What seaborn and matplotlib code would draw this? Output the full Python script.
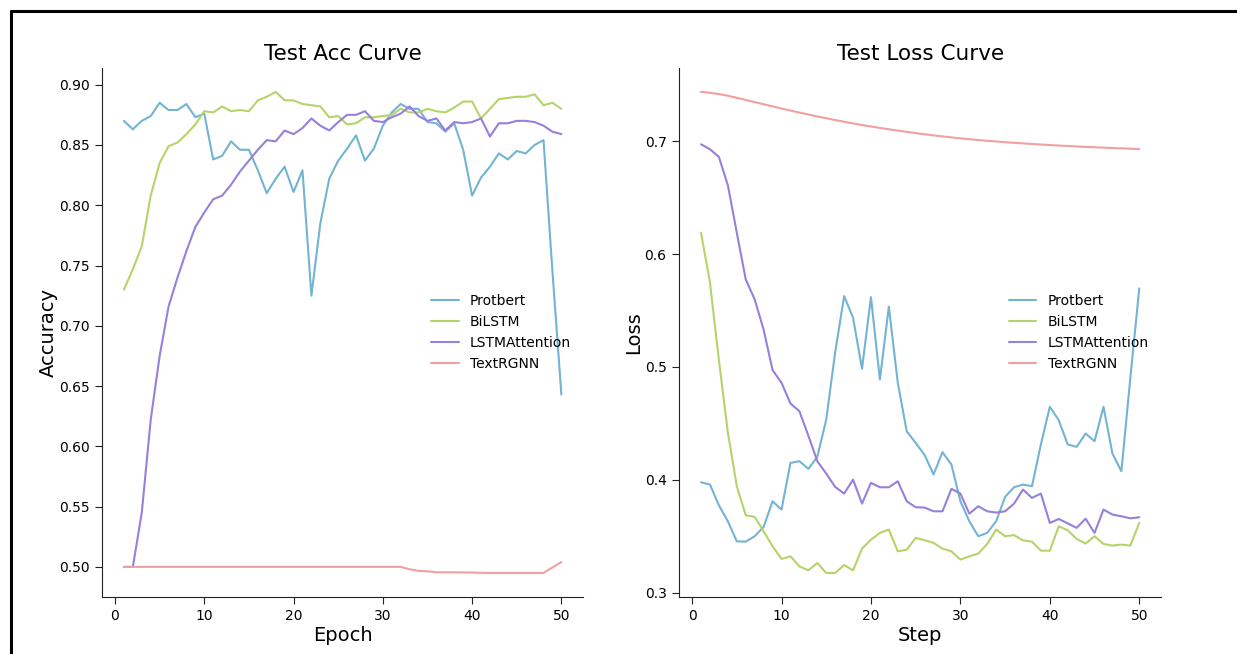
import numpy as np
import pandas as pd
import matplotlib
matplotlib.use("Agg")
import matplotlib.pyplot as plt
import seaborn as sns
from matplotlib.lines import Line2D

epochs = list(range(1, 51))
model_names = ["Protbert", "BiLSTM", "LSTMAttention", "TextRGNN"]
line_colors = ["#73b4d2", "#b4d46a", "#9680dc", "#f0a0a0"]

# test accuracy per epoch
acc_protbert = [0.870, 0.863, 0.870, 0.874, 0.885, 0.879, 0.879, 0.884, 0.873, 0.876,
                0.838, 0.841, 0.853, 0.846, 0.846, 0.829, 0.810, 0.822, 0.832, 0.811,
                0.829, 0.725, 0.785, 0.822, 0.837, 0.847, 0.858, 0.837, 0.847, 0.866,
                0.877, 0.884, 0.880, 0.880, 0.869, 0.868, 0.861, 0.868, 0.846, 0.808,
                0.823, 0.832, 0.843, 0.838, 0.845, 0.843, 0.850, 0.854, 0.745, 0.643]
acc_bilstm = [0.730, 0.747, 0.766, 0.808, 0.835, 0.849, 0.852, 0.859, 0.867, 0.878,
              0.877, 0.882, 0.878, 0.879, 0.878, 0.887, 0.890, 0.894, 0.887, 0.887,
              0.884, 0.883, 0.882, 0.873, 0.874, 0.867, 0.868, 0.873, 0.873, 0.874,
              0.875, 0.880, 0.877, 0.877, 0.880, 0.878, 0.877, 0.881, 0.886, 0.886,
              0.872, 0.880, 0.888, 0.889, 0.890, 0.890, 0.892, 0.883, 0.885, 0.880]
acc_lstmatt = [0.500, 0.500, 0.545, 0.622, 0.675, 0.716, 0.740, 0.762, 0.782, 0.794,
               0.805, 0.808, 0.817, 0.828, 0.837, 0.846, 0.854, 0.853, 0.862, 0.859,
               0.864, 0.872, 0.866, 0.862, 0.869, 0.875, 0.875, 0.878, 0.870, 0.869,
               0.873, 0.876, 0.882, 0.874, 0.870, 0.872, 0.862, 0.869, 0.868, 0.869,
               0.872, 0.857, 0.868, 0.868, 0.870, 0.870, 0.869, 0.866, 0.861, 0.859]
acc_textrgnn = [0.500] * 32 + [0.4980, 0.4967, 0.4963, 0.4956, 0.4955, 0.4955, 0.4954, 0.4953,
                               0.4951, 0.4950, 0.4950, 0.4950, 0.4950, 0.4950, 0.4950, 0.4950,
                               0.4995, 0.5040]

# test loss per step
loss_protbert = [0.3978, 0.3958, 0.3774, 0.3633, 0.3455, 0.3452, 0.3500, 0.3583, 0.3810, 0.3736,
                 0.4150, 0.4165, 0.4097, 0.4203, 0.4534, 0.5130, 0.5628, 0.5436, 0.4984, 0.5619,
                 0.4889, 0.5534, 0.4860, 0.4430, 0.4328, 0.4220, 0.4047, 0.4245, 0.4135, 0.3810,
                 0.3633, 0.3500, 0.3530, 0.3633, 0.3849, 0.3934, 0.3958, 0.3943, 0.4313, 0.4647,
                 0.4528, 0.4313, 0.4292, 0.4410, 0.4342, 0.4647, 0.4233, 0.4076, 0.4900, 0.5696]
loss_bilstm = [0.6190, 0.5747, 0.5060, 0.4420, 0.3943, 0.3686, 0.3671, 0.3544, 0.3411, 0.3299,
               0.3322, 0.3233, 0.3198, 0.3263, 0.3175, 0.3175, 0.3245, 0.3198, 0.3390, 0.3470,
               0.3530, 0.3559, 0.3366, 0.3381, 0.3485, 0.3465, 0.3441, 0.3390, 0.3366, 0.3293,
               0.3322, 0.3346, 0.3432, 0.3559, 0.3500, 0.3510, 0.3464, 0.3452, 0.3372, 0.3372,
               0.3588, 0.3553, 0.3476, 0.3435, 0.3500, 0.3432, 0.3417, 0.3426, 0.3417, 0.3618]
loss_lstmatt = [0.6973, 0.6929, 0.6861, 0.6610, 0.6190, 0.5776, 0.5599, 0.5330, 0.4972, 0.4860,
                0.4676, 0.4608, 0.4392, 0.4165, 0.4055, 0.3937, 0.3878, 0.4002, 0.3789, 0.3973,
                0.3934, 0.3934, 0.3987, 0.3810, 0.3757, 0.3754, 0.3721, 0.3721, 0.3920, 0.3878,
                0.3700, 0.3766, 0.3721, 0.3710, 0.3721, 0.3789, 0.3914, 0.3840, 0.3878, 0.3618,
                0.3653, 0.3614, 0.3574, 0.3656, 0.3530, 0.3736, 0.3692, 0.3677, 0.3659, 0.3668]
loss_textrgnn = [0.7437, 0.7430, 0.7418, 0.7403, 0.7385, 0.7366, 0.7347, 0.7328, 0.7309, 0.7290,
                 0.7272, 0.7254, 0.7237, 0.7220, 0.7204, 0.7188, 0.7173, 0.7158, 0.7144, 0.7131,
                 0.7118, 0.7106, 0.7094, 0.7083, 0.7072, 0.7062, 0.7052, 0.7043, 0.7034, 0.7026,
                 0.7018, 0.7011, 0.7004, 0.6998, 0.6992, 0.6986, 0.6981, 0.6976, 0.6971, 0.6966,
                 0.6962, 0.6958, 0.6954, 0.6950, 0.6947, 0.6943, 0.6940, 0.6937, 0.6934, 0.6931]

acc_data = [acc_protbert, acc_bilstm, acc_lstmatt, acc_textrgnn]
loss_data = [loss_protbert, loss_bilstm, loss_lstmatt, loss_textrgnn]

sns.set_style("ticks")
plt.rcParams['font.family'] = ['DejaVu Sans']
plt.rcParams['text.color'] = 'black'
plt.rcParams['axes.labelcolor'] = 'black'
plt.rcParams['xtick.color'] = '#222222'
plt.rcParams['ytick.color'] = '#222222'
plt.rcParams['axes.edgecolor'] = '#222222'

fig = plt.figure(figsize=(12.37, 6.54), dpi=100)
ax1 = fig.add_axes([0.0825, 0.0872, 0.389, 0.809])
ax2 = fig.add_axes([0.549, 0.0872, 0.3897, 0.809])

for name, vals, c in zip(model_names, acc_data, line_colors):
    sns.lineplot(x=epochs, y=vals, label=name, color=c, linewidth=1.5, ax=ax1)
for name, vals, c in zip(model_names, loss_data, line_colors):
    sns.lineplot(x=epochs, y=vals, label=name, color=c, linewidth=1.5, ax=ax2)

ax1.set_title("Test Acc Curve", fontsize=15.5)
ax1.set_xlabel("Epoch", fontsize=14, labelpad=2)
ax1.set_ylabel("Accuracy", fontsize=14, labelpad=1)
ax2.set_title("Test Loss Curve", fontsize=15.5)
ax2.set_xlabel("Step", fontsize=14, labelpad=2)
ax2.set_ylabel("Loss", fontsize=14, labelpad=1)

ax1.set_yticks([0.50, 0.55, 0.60, 0.65, 0.70, 0.75, 0.80, 0.85, 0.90])
ax2.set_yticks([0.3, 0.4, 0.5, 0.6, 0.7])

for ax in (ax1, ax2):
    ax.set_xticks([0, 10, 20, 30, 40, 50])
    ax.tick_params(labelsize=10, labelcolor='black', length=5, pad=4)
    leg = ax.legend(loc="center right", frameon=False, fontsize=10)
    for t in leg.get_texts():
        t.set_color('black')
    sns.despine(ax=ax)

# black frame from the screenshot border
fig.add_artist(Line2D([11 / 1237, 11 / 1237], [0, 1 - 11 / 654], transform=fig.transFigure,
                      color="black", linewidth=2.2))
fig.add_artist(Line2D([11 / 1237, 1], [1 - 11 / 654, 1 - 11 / 654], transform=fig.transFigure,
                      color="black", linewidth=2.2))

fig.savefig("out.png", dpi=100)
